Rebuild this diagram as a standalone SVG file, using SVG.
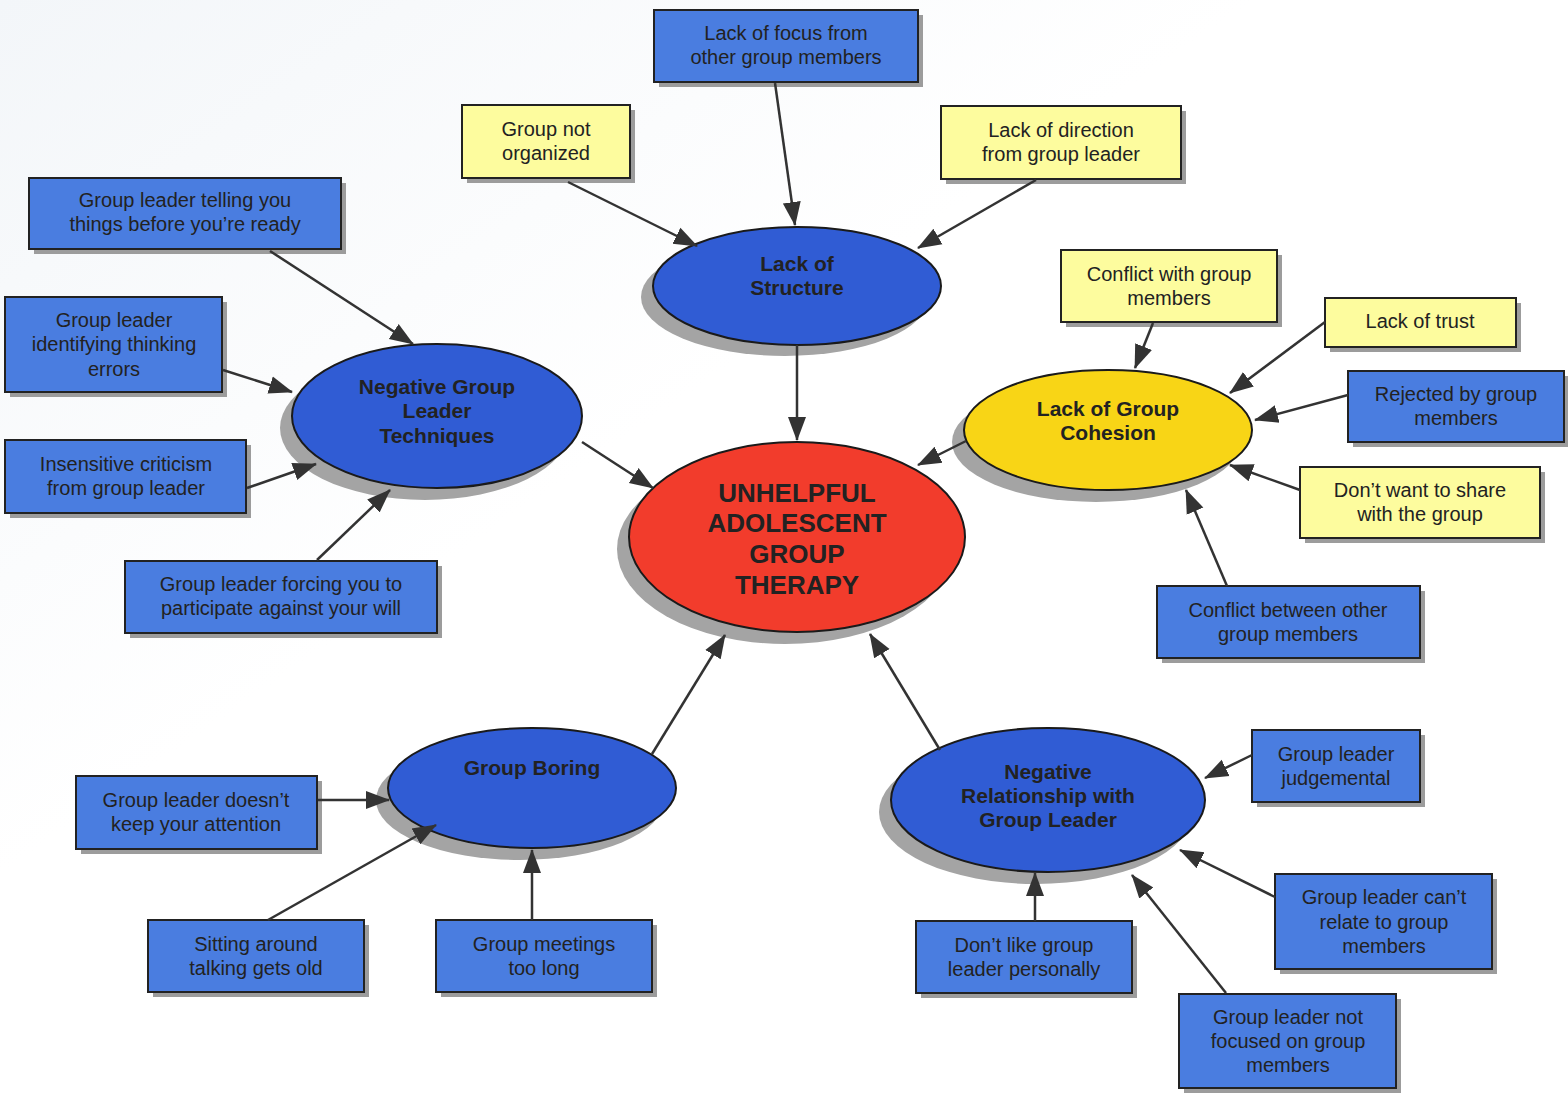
<svg xmlns="http://www.w3.org/2000/svg" width="1568" height="1093" viewBox="0 0 1568 1093">
<defs>
<marker id="ah" markerUnits="userSpaceOnUse" markerWidth="24" markerHeight="20" viewBox="0 0 24 20" refX="23" refY="10" orient="auto">
<path d="M0,1 L24,10 L0,19 Z" fill="#333"/>
</marker>
<linearGradient id="bg" x1="0" y1="0" x2="1" y2="1">
<stop offset="0" stop-color="#f3f6f9"/>
<stop offset="0.4" stop-color="#ffffff"/>
</linearGradient>
</defs>
<style>
.bx{stroke:#222;stroke-width:2}
.b{fill:#4a7de0}
.y{fill:#fdfc9e}
.sh{fill:#9c9c9c}
.es{fill:#a4a4a4}
.el{stroke:#1a1a1a;stroke-width:2}
.t{font-family:"Liberation Sans",Arial,sans-serif;font-size:20px;fill:#222;text-anchor:middle}
.tb{font-family:"Liberation Sans",Arial,sans-serif;font-size:21px;font-weight:bold;fill:#222;text-anchor:middle}
.tc{font-family:"Liberation Sans",Arial,sans-serif;font-size:26px;font-weight:bold;fill:#222;text-anchor:middle}
.c{stroke:#333;stroke-width:2.5;fill:none;marker-end:url(#ah)}
</style>
<rect width="1568" height="1093" fill="url(#bg)"/>

<g id="center">
<ellipse class="es" cx="785" cy="549" rx="168" ry="95"/>
<ellipse class="el" cx="797" cy="537" rx="168" ry="95" fill="#f23c2c"/>
<text class="tc" x="797" y="502">UNHELPFUL</text>
<text class="tc" x="797" y="532">ADOLESCENT</text>
<text class="tc" x="797" y="563">GROUP</text>
<text class="tc" x="797" y="594">THERAPY</text>
</g>

<g id="lack-structure">
<ellipse class="es" cx="785" cy="297" rx="144" ry="59"/>
<ellipse class="el" cx="797" cy="286" rx="144" ry="59" fill="#305cd4"/>
<text class="tb" x="797" y="271">Lack of</text>
<text class="tb" x="797" y="295">Structure</text>
</g>

<g id="neg-techniques">
<ellipse class="es" cx="425" cy="428" rx="145" ry="72"/>
<ellipse class="el" cx="437" cy="416" rx="145" ry="72" fill="#305cd4"/>
<text class="tb" x="437" y="394">Negative Group</text>
<text class="tb" x="437" y="418">Leader</text>
<text class="tb" x="437" y="443">Techniques</text>
</g>

<g id="lack-cohesion">
<ellipse class="es" cx="1096" cy="442" rx="144" ry="60"/>
<ellipse class="el" cx="1108" cy="430" rx="144" ry="60" fill="#f8d516"/>
<text class="tb" x="1108" y="416">Lack of Group</text>
<text class="tb" x="1108" y="440">Cohesion</text>
</g>

<g id="group-boring">
<ellipse class="es" cx="520" cy="800" rx="144" ry="60"/>
<ellipse class="el" cx="532" cy="788" rx="144" ry="60" fill="#305cd4"/>
<text class="tb" x="532" y="775">Group Boring</text>
</g>

<g id="neg-relationship">
<ellipse class="es" cx="1036" cy="812" rx="157" ry="72"/>
<ellipse class="el" cx="1048" cy="800" rx="157" ry="72" fill="#305cd4"/>
<text class="tb" x="1048" y="779">Negative</text>
<text class="tb" x="1048" y="803">Relationship with</text>
<text class="tb" x="1048" y="827">Group Leader</text>
</g>

<g id="box-lack-focus">
<rect class="sh" x="659" y="15" width="264" height="72"/>
<rect class="bx b" x="654" y="10" width="264" height="72"/>
<text class="t" x="786" y="40">Lack of focus from</text>
<text class="t" x="786" y="64">other group members</text>
</g>

<g id="box-not-organized">
<rect class="sh" x="467" y="110" width="168" height="73"/>
<rect class="bx y" x="462" y="105" width="168" height="73"/>
<text class="t" x="546" y="136">Group not</text>
<text class="t" x="546" y="160">organized</text>
</g>

<g id="box-lack-direction">
<rect class="sh" x="946" y="111" width="240" height="73"/>
<rect class="bx y" x="941" y="106" width="240" height="73"/>
<text class="t" x="1061" y="137">Lack of direction</text>
<text class="t" x="1061" y="161">from group leader</text>
</g>

<g id="box-telling">
<rect class="sh" x="34" y="183" width="312" height="71"/>
<rect class="bx b" x="29" y="178" width="312" height="71"/>
<text class="t" x="185" y="207">Group leader telling you</text>
<text class="t" x="185" y="231">things before you’re ready</text>
</g>

<g id="box-identifying">
<rect class="sh" x="10" y="302" width="217" height="95"/>
<rect class="bx b" x="5" y="297" width="217" height="95"/>
<text class="t" x="114" y="327">Group leader</text>
<text class="t" x="114" y="351">identifying thinking</text>
<text class="t" x="114" y="376">errors</text>
</g>

<g id="box-insensitive">
<rect class="sh" x="10" y="445" width="241" height="73"/>
<rect class="bx b" x="5" y="440" width="241" height="73"/>
<text class="t" x="126" y="471">Insensitive criticism</text>
<text class="t" x="126" y="495">from group leader</text>
</g>

<g id="box-forcing">
<rect class="sh" x="130" y="566" width="312" height="72"/>
<rect class="bx b" x="125" y="561" width="312" height="72"/>
<text class="t" x="281" y="591">Group leader forcing you to</text>
<text class="t" x="281" y="615">participate against your will</text>
</g>

<g id="box-conflict-with">
<rect class="sh" x="1066" y="255" width="216" height="72"/>
<rect class="bx y" x="1061" y="250" width="216" height="72"/>
<text class="t" x="1169" y="281">Conflict with group</text>
<text class="t" x="1169" y="305">members</text>
</g>

<g id="box-trust">
<rect class="sh" x="1330" y="303" width="191" height="49"/>
<rect class="bx y" x="1325" y="298" width="191" height="49"/>
<text class="t" x="1420" y="328">Lack of trust</text>
</g>

<g id="box-rejected">
<rect class="sh" x="1353" y="376" width="216" height="71"/>
<rect class="bx b" x="1348" y="371" width="216" height="71"/>
<text class="t" x="1456" y="401">Rejected by group</text>
<text class="t" x="1456" y="425">members</text>
</g>

<g id="box-share">
<rect class="sh" x="1305" y="472" width="240" height="71"/>
<rect class="bx y" x="1300" y="467" width="240" height="71"/>
<text class="t" x="1420" y="497">Don’t want to share</text>
<text class="t" x="1420" y="521">with the group</text>
</g>

<g id="box-conflict-between">
<rect class="sh" x="1162" y="591" width="263" height="72"/>
<rect class="bx b" x="1157" y="586" width="263" height="72"/>
<text class="t" x="1288" y="617">Conflict between other</text>
<text class="t" x="1288" y="641">group members</text>
</g>

<g id="box-attention">
<rect class="sh" x="81" y="781" width="241" height="73"/>
<rect class="bx b" x="76" y="776" width="241" height="73"/>
<text class="t" x="196" y="807">Group leader doesn’t</text>
<text class="t" x="196" y="831">keep your attention</text>
</g>

<g id="box-sitting">
<rect class="sh" x="153" y="925" width="216" height="72"/>
<rect class="bx b" x="148" y="920" width="216" height="72"/>
<text class="t" x="256" y="951">Sitting around</text>
<text class="t" x="256" y="975">talking gets old</text>
</g>

<g id="box-meetings">
<rect class="sh" x="441" y="925" width="216" height="72"/>
<rect class="bx b" x="436" y="920" width="216" height="72"/>
<text class="t" x="544" y="951">Group meetings</text>
<text class="t" x="544" y="975">too long</text>
</g>

<g id="box-dont-like">
<rect class="sh" x="921" y="926" width="216" height="72"/>
<rect class="bx b" x="916" y="921" width="216" height="72"/>
<text class="t" x="1024" y="952">Don’t like group</text>
<text class="t" x="1024" y="976">leader personally</text>
</g>

<g id="box-judgemental">
<rect class="sh" x="1257" y="735" width="168" height="72"/>
<rect class="bx b" x="1252" y="730" width="168" height="72"/>
<text class="t" x="1336" y="761">Group leader</text>
<text class="t" x="1336" y="785">judgemental</text>
</g>

<g id="box-cant-relate">
<rect class="sh" x="1280" y="879" width="217" height="95"/>
<rect class="bx b" x="1275" y="874" width="217" height="95"/>
<text class="t" x="1384" y="904">Group leader can’t</text>
<text class="t" x="1384" y="929">relate to group</text>
<text class="t" x="1384" y="953">members</text>
</g>

<g id="box-not-focused">
<rect class="sh" x="1184" y="999" width="217" height="94"/>
<rect class="bx b" x="1179" y="994" width="217" height="94"/>
<text class="t" x="1288" y="1024">Group leader not</text>
<text class="t" x="1288" y="1048">focused on group</text>
<text class="t" x="1288" y="1072">members</text>
</g>

<g id="connectors">
<line class="c" x1="775" y1="83" x2="795" y2="225"/>
<line class="c" x1="568" y1="182" x2="697" y2="246"/>
<line class="c" x1="1036" y1="180" x2="918" y2="248"/>
<line class="c" x1="797" y1="345" x2="797" y2="440"/>
<line class="c" x1="270" y1="251" x2="413" y2="344"/>
<line class="c" x1="223" y1="370" x2="292" y2="392"/>
<line class="c" x1="247" y1="488" x2="316" y2="464"/>
<line class="c" x1="317" y1="560" x2="390" y2="490"/>
<line class="c" x1="582" y1="442" x2="653" y2="488"/>
<line class="c" x1="966" y1="441" x2="918" y2="465"/>
<line class="c" x1="1153" y1="323" x2="1135" y2="368"/>
<line class="c" x1="1325" y1="322" x2="1230" y2="393"/>
<line class="c" x1="1348" y1="395" x2="1255" y2="420"/>
<line class="c" x1="1300" y1="490" x2="1230" y2="465"/>
<line class="c" x1="1227" y1="586" x2="1186" y2="490"/>
<line class="c" x1="652" y1="754" x2="725" y2="635"/>
<line class="c" x1="318" y1="800" x2="389" y2="800"/>
<line class="c" x1="268" y1="920" x2="436" y2="825"/>
<line class="c" x1="532" y1="920" x2="532" y2="850"/>
<line class="c" x1="940" y1="750" x2="870" y2="634"/>
<line class="c" x1="1252" y1="755" x2="1205" y2="778"/>
<line class="c" x1="1275" y1="897" x2="1180" y2="850"/>
<line class="c" x1="1226" y1="993" x2="1132" y2="875"/>
<line class="c" x1="1035" y1="921" x2="1035" y2="873"/>
</g>
</svg>
